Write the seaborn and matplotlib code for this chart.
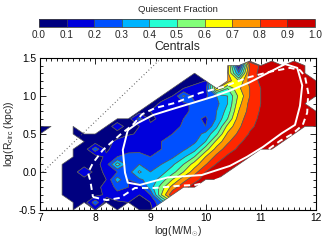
import numpy as np
import pandas as pd
import matplotlib
matplotlib.use("Agg")
import matplotlib.pyplot as plt
from matplotlib.colors import ListedColormap, BoundaryNorm
from matplotlib.cm import ScalarMappable
from matplotlib.ticker import MultipleLocator, FormatStrFormatter
import seaborn as sns

N = np.nan

# grid of stellar mass (columns) and size (rows, top to bottom)
log_mass = [7.0, 7.2, 7.4, 7.6, 7.8, 8.0, 8.2, 8.4, 8.6, 8.8, 9.0, 9.2, 9.4,
            9.6, 9.8, 10.0, 10.2, 10.4, 10.6, 10.8, 11.0, 11.2, 11.4, 11.6, 11.8, 12.0]
log_size = [1.46, 1.4, 1.3, 1.2, 1.1, 1.0, 0.9, 0.8, 0.7, 0.6, 0.5,
            0.4, 0.3, 0.2, 0.1, 0.0, -0.1, -0.2, -0.3, -0.4, -0.5]

# quiescent fraction read from the map (NaN = no galaxies)
quiescent_fraction = [
    # 7.0 7.2 7.4 7.6 7.8 8.0 8.2 8.4 8.6 8.8 9.0 9.2 9.4 9.6 9.8 10.0 10.2 10.4 10.6 10.8 11.0 11.2 11.4 11.6 11.8 12.0
    [N, N, N, N, N, N, N, N, N, N, N, N, N, N, N, N, N, N, N, 0.93, N, 0.95, N, 0.95, N, N],                     # top
    [N, N, N, N, N, N, N, N, N, N, N, N, N, N, N, N, N, 0.75, 0.05, 0.80, 0.92, 0.96, 0.96, 0.95, 0.93, N],     # 1.4
    [N, N, N, N, N, N, N, N, N, N, N, N, N, N, 0.05, N, N, 0.72, 0.30, 0.84, 0.93, 0.96, 0.97, 0.96, 0.95, N],  # 1.3
    [N, N, N, N, N, N, N, N, N, N, N, N, N, 0.05, 0.08, 0.10, N, 0.75, 0.60, 0.84, 0.92, 0.96, 0.97, 0.97, 0.95, 0.92],  # 1.2
    [N, N, N, N, N, N, N, N, N, N, N, N, 0.05, 0.10, 0.12, 0.15, 0.72, 0.50, 0.68, 0.80, 0.90, 0.95, 0.97, 0.97, 0.95, 0.93],  # 1.1
    [N, N, N, N, N, N, N, N, N, N, N, 0.05, 0.10, 0.32, 0.15, 0.18, 0.30, 0.40, 0.62, 0.80, 0.90, 0.95, 0.97, 0.97, 0.95, 0.92],  # 1.0
    [N, N, N, N, N, N, N, N, N, N, 0.05, 0.12, 0.15, 0.18, 0.22, 0.22, 0.27, 0.40, 0.66, 0.83, 0.90, 0.95, 0.97, 0.97, 0.93, N],  # 0.9
    [N, N, N, N, N, N, N, N, N, 0.05, 0.10, 0.13, 0.15, 0.18, 0.22, 0.24, 0.30, 0.44, 0.70, 0.84, 0.91, 0.96, 0.97, 0.97, 0.95, 0.93],  # 0.8
    [N, N, N, N, N, N, N, 0.05, 0.06, 0.24, 0.08, 0.12, 0.14, 0.20, 0.23, 0.18, 0.31, 0.50, 0.75, 0.86, 0.92, 0.96, 0.97, 0.97, 0.95, 0.93],  # 0.7
    [0.03, 0.03, N, 0.03, N, N, 0.05, 0.15, 0.06, 0.10, 0.12, 0.13, 0.15, 0.22, 0.24, 0.20, 0.38, 0.63, 0.78, 0.88, 0.93, 0.96, 0.97, 0.97, 0.96, 0.94],  # 0.6
    [0.03, N, N, 0.03, 0.03, 0.05, 0.05, 0.06, 0.08, 0.12, 0.14, 0.15, 0.20, 0.23, 0.25, 0.33, 0.48, 0.72, 0.82, 0.91, 0.95, 0.97, 0.97, 0.97, N, N],  # 0.5
    [N, N, N, N, 0.03, 0.05, 0.07, 0.12, 0.20, 0.15, 0.17, 0.20, 0.22, 0.25, 0.28, 0.40, 0.63, 0.78, 0.88, 0.94, 0.97, 0.97, 0.97, N, N, N],  # 0.4
    [N, N, N, 0.03, 0.04, 0.26, 0.08, 0.15, 0.18, 0.12, 0.15, 0.20, 0.24, 0.28, 0.36, 0.55, 0.74, 0.85, 0.92, 0.95, 0.97, 0.97, N, N, N, N],  # 0.3
    [N, N, N, 0.03, 0.04, 0.05, 0.12, 0.20, 0.22, 0.30, 0.20, 0.22, 0.28, 0.38, 0.50, 0.70, 0.83, 0.92, 0.95, 0.97, N, N, N, N, N, N],  # 0.2
    [N, N, 0.03, 0.04, 0.05, 0.06, 0.15, 0.45, 0.25, 0.30, 0.28, 0.30, 0.38, 0.50, 0.65, 0.79, 0.91, 0.95, 0.97, N, N, N, N, N, N, N],  # 0.1
    [N, N, 0.03, 0.04, 0.20, 0.06, 0.12, 0.20, 0.25, 0.42, 0.30, 0.36, 0.46, 0.60, 0.76, 0.90, 0.95, 0.97, N, N, N, N, N, N, N, N],  # 0.0
    [N, N, 0.03, 0.04, 0.05, 0.05, 0.10, 0.35, 0.20, 0.28, 0.34, 0.44, 0.60, 0.76, 0.87, 0.94, 0.96, N, N, N, N, N, N, N, N, N],  # -0.1
    [N, N, 0.03, 0.04, 0.05, 0.05, 0.15, 0.22, 0.20, 0.15, 0.35, 0.55, 0.74, 0.87, 0.94, N, N, N, N, N, N, N, N, N, N, N],  # -0.2
    [N, N, 0.03, 0.04, 0.05, 0.06, 0.12, 0.18, 0.12, 0.10, 0.20, 0.60, 0.88, N, N, N, N, N, N, N, N, N, N, N, N, N],  # -0.3
    [N, N, N, 0.04, 0.05, 0.26, 0.06, 0.08, 0.10, 0.08, 0.10, 0.30, N, N, N, N, N, N, N, N, N, N, N, N, N, N],  # -0.4
    [N, N, N, 0.04, N, 0.10, N, 0.05, N, 0.05, 0.06, N, N, N, N, N, N, N, N, N, N, N, N, N, N, N],  # -0.5
]

fraction_levels = [0.0, 0.1, 0.2, 0.3, 0.4, 0.5, 0.6, 0.7, 0.8, 0.9, 1.0]
band_colors = ["#000080", "#0000dc", "#0050ff", "#00b4ff", "#26ffd4",
               "#82ff78", "#ffff00", "#ff9600", "#ff2800", "#c80000"]
colorbar_labels = ["0.0", "0.1", "0.2", "0.3", "0.4", "0.5", "0.6", "0.7", "0.8", "0.9", "1.0"]

# density contours (white)
solid_mass = [8.59, 8.50, 8.54, 8.59, 8.81, 9.32, 9.93, 10.44, 10.75, 11.04, 11.38, 11.62,
              11.71, 11.75, 11.66, 11.44, 11.17, 10.80, 10.44, 10.13, 9.77, 9.36, 9.05, 8.76, 8.59]
solid_size = [0.55, 0.29, -0.01, -0.14, -0.17, -0.07, -0.04, 0.08, 0.20, 0.33, 0.51, 0.62,
              0.87, 1.14, 1.37, 1.42, 1.32, 1.18, 1.07, 0.99, 0.91, 0.82, 0.75, 0.64, 0.55]
dashed_mass = [7.96, 8.21, 8.45, 8.72, 9.08, 9.54, 9.81, 10.08, 10.44, 10.75, 11.04, 11.35,
               11.57, 11.76, 11.84, 11.86, 11.80, 11.71, 11.53, 11.17, 10.75, 10.32, 9.90,
               9.45, 9.08, 8.85, 8.68, 8.45, 8.14, 7.96, 7.87, 7.91, 7.96]
dashed_size = [-0.33, -0.37, -0.34, -0.21, -0.21, -0.18, -0.17, -0.13, -0.04, 0.08, 0.25, 0.41,
               0.50, 0.62, 0.78, 1.04, 1.26, 1.34, 1.37, 1.32, 1.24, 1.12, 1.04,
               0.91, 0.84, 0.76, 0.62, 0.49, 0.29, 0.12, -0.01, -0.11, -0.33]
limit_mass = [7.05, 9.2]
limit_size = [0.0, 1.5]

# ---------------------------------------------------------------
sns.set_style("ticks")
plt.rcParams['font.family'] = ['Liberation Sans', 'DejaVu Sans']
plt.rcParams['mathtext.fontset'] = 'custom'
plt.rcParams['mathtext.rm'] = 'Liberation Sans'
plt.rcParams['mathtext.it'] = 'Liberation Sans'
plt.rcParams['axes.unicode_minus'] = False

W, H = 334, 243
fig = plt.figure(figsize=(W / 100, H / 100), dpi=100)
ax = fig.add_axes([40 / W, 33 / H, 276 / W, 152 / H])

Z = np.ma.masked_invalid(np.array(quiescent_fraction)[::-1])
Y = np.array(log_size)[::-1]
cs = ax.contourf(log_mass, Y, Z, levels=fraction_levels, colors=band_colors,
                 corner_mask=True, antialiased=True)
cs.set_edgecolor('#555555')
cs.set_linewidth(0.5)

solid_df = pd.DataFrame({"mass": solid_mass, "size": solid_size})
dashed_df = pd.DataFrame({"mass": dashed_mass, "size": dashed_size})
limit_df = pd.DataFrame({"mass": limit_mass, "size": limit_size})

sns.lineplot(data=solid_df, x="mass", y="size", sort=False, estimator=None,
             color="white", linewidth=1.4, ax=ax)
sns.lineplot(data=dashed_df, x="mass", y="size", sort=False, estimator=None,
             color="white", linewidth=1.4, ax=ax)
ax.lines[-1].set_dashes([3.2, 2.2])
sns.lineplot(data=limit_df, x="mass", y="size", sort=False, estimator=None,
             color="#555555", linewidth=0.8, ax=ax)
ax.lines[-1].set_dashes([0.8, 2.2])

ax.set_xlim(7, 12)
ax.set_ylim(-0.5, 1.5)
ax.xaxis.set_major_locator(MultipleLocator(1))
ax.xaxis.set_minor_locator(MultipleLocator(0.1))
ax.yaxis.set_major_locator(MultipleLocator(0.5))
ax.yaxis.set_minor_locator(MultipleLocator(0.1))
ax.yaxis.set_major_formatter(FormatStrFormatter('%.1f'))
ax.tick_params(which='both', direction='in', top=True, right=True,
               labelsize=7.4, pad=2.5, width=0.6, colors='black')
ax.tick_params(which='major', length=4)
ax.tick_params(which='minor', length=2)
for sp in ax.spines.values():
    sp.set_linewidth(0.8)
    sp.set_color('black')
ax.set_xlabel(r'log(M/M$_{\odot}$)', fontsize=7.4, labelpad=1)
ax.set_ylabel(r'log(R$_{\rm circ}$ (kpc))', fontsize=7.4, labelpad=2)

fig.text(177.5 / W, 1 - 47 / H, "Centrals", ha="center", va="center", fontsize=8.8)

# colorbar
cax = fig.add_axes([39 / W, 1 - 27 / H, 276 / W, 8 / H])
cmap = ListedColormap(band_colors)
norm = BoundaryNorm(fraction_levels, cmap.N)
cb = fig.colorbar(ScalarMappable(norm=norm, cmap=cmap), cax=cax,
                  orientation="horizontal", drawedges=True, ticks=fraction_levels)
cb.ax.set_xticklabels(colorbar_labels)
cb.ax.tick_params(length=0, labelsize=7.2, pad=2.5)
cb.outline.set_edgecolor('#444444')
cb.outline.set_linewidth(0.6)
cb.dividers.set_color('#444444')
cb.dividers.set_linewidth(0.5)
fig.text(177.5 / W, 1 - 10 / H, "Quiescent Fraction", ha="center", va="center", fontsize=6.8)

fig.savefig("out.png", dpi=100)
